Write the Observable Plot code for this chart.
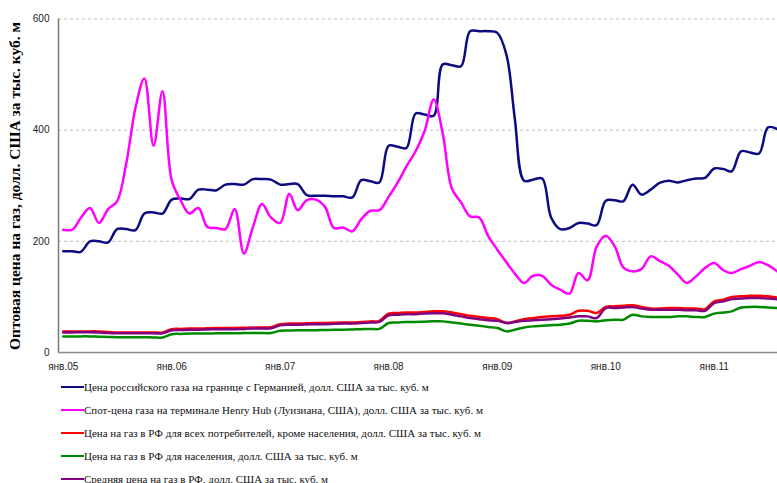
<!DOCTYPE html>
<html><head><meta charset="utf-8">
<script src="https://cdn.jsdelivr.net/npm/d3@7"></script>
<script src="https://cdn.jsdelivr.net/npm/@observablehq/plot@0.6"></script>
<style>
body{margin:0;background:#fff;}
#wrap{position:relative;width:777px;height:483px;overflow:hidden;background:#fff;}
#ytitle{position:absolute;left:15px;top:185.5px;transform:translate(-50%,-50%) rotate(-90deg);white-space:nowrap;font:bold 15.5px "Liberation Serif";color:#000;}
#legend{position:absolute;left:61px;top:375px;font:11px "Liberation Serif";color:#111;}
.row{height:23px;display:flex;align-items:center;white-space:nowrap;}
.sw{width:23px;height:2px;margin-right:0px;}
#chart{position:absolute;left:0;top:0;}
</style>
</head><body>
<div id="wrap"><div id="chart"></div><div id="ytitle"></div><div id="legend"></div></div>
<script>
const yTitle = "Оптовая цена на газ, долл. США за тыс. куб. м";
const yTicks = [0, 200, 400, 600];
const xTickLabels = ["янв.05","янв.06","янв.07","янв.08","янв.09","янв.10","янв.11"];
const seriesNames = [
  "Цена российского газа на границе с Германией, долл. США за тыс. куб. м",
  "Спот-цена газа на терминале Henry Hub (Луизиана, США), долл. США за тыс. куб. м",
  "Цена на газ в РФ для всех потребителей, кроме населения, долл. США за тыс. куб. м",
  "Цена на газ в РФ для населения, долл. США за тыс. куб. м",
  "Средняя цена на газ в РФ, долл. США за тыс. куб. м"
];
const seriesColors = ["#0c0c80", "#ff00ff", "#ff0000", "#008a00", "#800080"];

// monthly values, Jan 2005 .. Aug 2011
const germany = [
  182,182,181,200,200,198,222,222,220,250,252,250,
  275,277,276,293,293,292,302,303,302,312,312,311,
  302,303,303,283,282,282,281,281,279,310,308,306,
  372,370,368,430,428,426,518,517,515,578,578,578,
  575,535,420,309,311,313,243,222,224,233,232,229,
  273,274,272,302,284,293,305,309,306,310,313,314,
  331,330,326,362,360,358,405,402
];
const henryHub = [
  221,221,242,260,233,258,272,340,440,493,372,470,
  310,273,250,260,226,224,222,258,178,225,267,243,
  233,285,256,274,275,262,224,225,218,240,255,256,
  280,306,335,362,398,455,395,295,270,245,243,210,
  185,162,142,125,138,138,122,113,106,143,130,190,
  210,190,153,146,150,173,165,156,140,125,137,152,
  161,148,143,150,156,163,157,146
];
const rfIndustry = [
  38,38,38,38,38,37,36,36,36,36,36,36,
  42,42.5,43,43,43.5,44,44,44,44.5,45,45,45.5,
  51,52,52,52.5,53,53,53.5,54,54,55,56,57,
  70,71,72,72,73,74,74,72,69,66,64,62,
  60,53,56,60,62,64,65,66,68,75,75,71,
  82,83,84,85,82,79,79,80,80,79,79,78,
  92,95,100,101,102,102,101,99
];
const rfPopulation = [
  29,29,29,29,28.5,28,27.5,27.5,27.5,27.5,27,27,
  33,33.5,34,34,34,34.5,34.5,34.5,35,35,35,35,
  39,39.5,40,40,40,40.5,41,41,41.5,42,42.5,42.5,
  53,54,55,55,55.5,56,56,54,52,50,48,46,
  44,38,41,45,47,48,49,50,52,57,57,56,
  58,59,59,68,65,64,64,64,65,65,64,64,
  70,72,74,81,82,82,81,80
];
const rfAverage = [
  36,36,36.5,36.5,36,35,34.5,34.5,34.5,34.5,34.5,34.5,
  40,40.5,41,41,41.5,42,42,42,42.5,43,43,43.5,
  49,50,50,50.5,51,51,51.5,52,52,53,54,55,
  67,68,69,69,70,70.5,70.5,68,65,62,60,58,
  57,53,55,57,58,59,60,61,63,65,65,62,
  80,80,81,82,79,77,77,77,77,76,76,75,
  89,92,96,97,98,98,97,96
];

const months = d3.utcMonth.range(new Date(Date.UTC(2005,0,1)), new Date(Date.UTC(2011,8,1)));
const seriesValues = [germany, henryHub, rfIndustry, rfPopulation, rfAverage];
const table = months.map((date, i) => ({date, s0: germany[i], s1: henryHub[i], s2: rfIndustry[i], s3: rfPopulation[i], s4: rfAverage[i]}));
const xStart = new Date(Date.UTC(2004,11,16));
const xEnd = new Date(Date.UTC(2011,7,2));
const xTicks = d3.utcYear.range(new Date(Date.UTC(2005,0,1)), new Date(Date.UTC(2012,0,1)));

const chart = Plot.plot({
  width: 777, height: 378,
  marginLeft: 58, marginRight: 0, marginTop: 18.5, marginBottom: 26,
  style: {fontFamily: "Liberation Sans, Arial, sans-serif", fontSize: "10px", color: "#222", background: "#fff", overflow: "visible"},
  x: {type: "utc", domain: [xStart, xEnd]},
  y: {domain: [0, 600]},
  marks: [
    Plot.gridY(yTicks.filter(v => v > 0), {stroke: "#bdbdbd", strokeOpacity: 1, strokeDasharray: "3,3"}),
    Plot.axisY({ticks: yTicks, tickSize: 0, tickPadding: 9, label: null}),
    Plot.axisX({ticks: xTicks, tickSize: 0, tickPadding: 10, label: null,
      tickFormat: d => xTickLabels[d.getUTCFullYear() - 2005]}),
    ...seriesValues.map((vals, k) => Plot.line(table, {x: "date", y: "s" + k, stroke: seriesColors[k], strokeWidth: 2.5, curve: "catmull-rom"})),
    Plot.ruleY([0], {stroke: "#8a8a8a", strokeWidth: 1.5}),
    Plot.ruleX([xStart], {stroke: "#7a7a7a", strokeWidth: 1.5})
  ]
});
document.getElementById("chart").appendChild(chart);
document.getElementById("ytitle").textContent = yTitle;
const leg = document.getElementById("legend");
seriesNames.forEach((name, k) => {
  const row = document.createElement("div");
  row.className = "row";
  const sw = document.createElement("span");
  sw.className = "sw";
  sw.style.background = seriesColors[k];
  const t = document.createElement("span");
  t.textContent = name;
  row.appendChild(sw); row.appendChild(t);
  leg.appendChild(row);
});
</script>
</body></html>
